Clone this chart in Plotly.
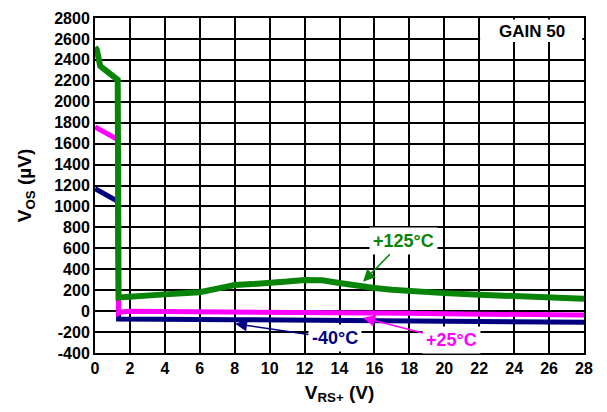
import plotly.graph_objects as go

# ---- data ----
x_125 = [0.0, 0.1, 0.3, 0.6, 1.0, 1.3, 1.35, 2, 3, 4, 5, 6, 7, 8, 9, 10, 11, 12, 12.5, 13, 14, 15, 16, 17, 18, 19, 20, 22, 24, 26, 28]
y_125 = [2520, 2500, 2340, 2300, 2240, 2210, 130, 140, 150, 160, 170, 180, 215, 250, 258, 265, 282, 298, 300, 295, 268, 240, 220, 205, 192, 182, 172, 157, 142, 128, 118]

x_25 = [0.0, 0.6, 1.3, 1.35, 1.5, 2, 4, 6, 8, 10, 12, 14, 16, 18, 20, 22, 24, 26, 28]
y_25 = [1760, 1700, 1640, -20, -8, -2, -3, -5, -6, -8, -10, -12, -15, -20, -25, -29, -33, -36, -38]

x_m40 = [0.0, 0.6, 1.3, 1.35, 2, 4, 6, 8, 10, 12, 14, 16, 18, 20, 22, 24, 26, 28]
y_m40 = [1170, 1110, 1050, -75, -77, -78, -80, -82, -84, -86, -88, -90, -93, -96, -100, -102, -104, -106]

x_ticks = list(range(0, 29, 2))
y_ticks = list(range(-400, 2801, 200))
y_ticklabels = [str(v) for v in y_ticks]

GREEN = "#088508"
MAGENTA = "#ff00ff"
NAVY = "#000080"

fig = go.Figure()
fig.add_trace(go.Scatter(x=x_m40, y=y_m40, mode="lines", line=dict(color=NAVY, width=5), showlegend=False))
fig.add_trace(go.Scatter(x=x_25, y=y_25, mode="lines", line=dict(color=MAGENTA, width=5), showlegend=False))
fig.add_trace(go.Scatter(x=x_125, y=y_125, mode="lines", line=dict(color=GREEN, width=6), showlegend=False))

bold = dict(family="Arial, Liberation Sans, sans-serif", color="black", size=16, weight="bold")

fig.update_layout(
    width=607, height=412,
    margin=dict(l=95, r=23, t=10, b=59),
    paper_bgcolor="white", plot_bgcolor="white",
    xaxis=dict(range=[0, 28], tickvals=x_ticks, ticktext=[str(v) for v in x_ticks],
               showgrid=True, gridcolor="black", gridwidth=2, zeroline=False,
               showline=True, linecolor="black", linewidth=2, mirror=True,
               ticks="", tickfont=bold,
               title=dict(text="V<sub>RS+</sub> (V)", font=dict(bold, size=19), standoff=9)),
    yaxis=dict(range=[-400, 2800], tickvals=y_ticks, ticktext=y_ticklabels,
               showgrid=True, gridcolor="black", gridwidth=2, zeroline=False,
               showline=True, linecolor="black", linewidth=2, mirror=True,
               ticks="", tickfont=bold,
               title=dict(text="V<sub>OS</sub> (µV)", font=dict(bold, size=19), standoff=18)),
)

# GAIN 50 box
fig.add_shape(type="rect", xref="x", yref="y", x0=22.05, x1=27.9, y0=2570, y1=2785,
              fillcolor="white", line=dict(width=0), layer="above")
fig.add_annotation(x=25.0, y=2670, xref="x", yref="y", text="GAIN 50", showarrow=False,
                   font=dict(bold, size=17))

# labels with arrows: (label x, label y, arrow tip x, arrow tip y, text, colour)
labels = [
    (17.64, 673, 15.35, 281, "+125°C", GREEN),
    (13.74, -260, 8.02, -120, "-40°C", NAVY),
    (20.44, -279, 15.35, -64, "+25°C", MAGENTA),
]
for lx, ly, hx, hy, t, c in labels:
    fig.add_annotation(x=hx, y=hy, ax=lx, ay=ly, xref="x", yref="y", axref="x", ayref="y",
                       text=t, showarrow=True, arrowhead=2, arrowsize=1.6, arrowwidth=1.5,
                       arrowcolor=c, bgcolor="white", borderpad=3,
                       font=dict(family="Arial, Liberation Sans, sans-serif", size=18, color=c, weight="bold"))

fig.write_html("out.html")
